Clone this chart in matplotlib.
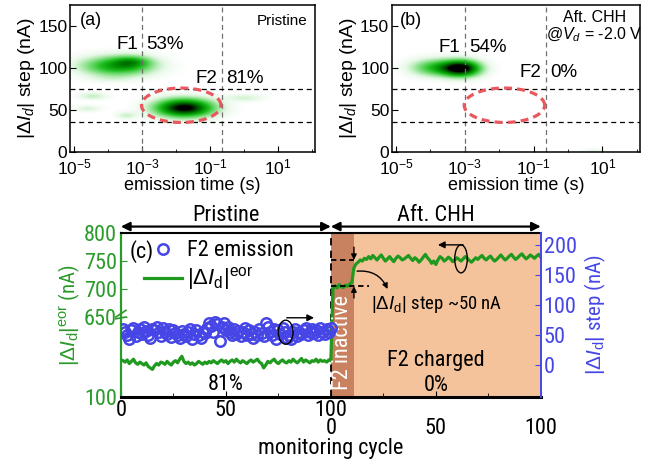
import numpy as np
import matplotlib
matplotlib.use('Agg')
import matplotlib.pyplot as plt
from matplotlib import font_manager as fm
from matplotlib.colors import LinearSegmentedColormap
from matplotlib.patches import Ellipse
from matplotlib.ticker import FixedLocator, NullFormatter
import matplotlib.transforms as mtransforms

names = {f.name for f in fm.fontManager.ttflist}
REG = 'Liberation Sans'
NARROW = REG
for cand in ('Liberation Sans Narrow', 'Arial Narrow', 'Nimbus Sans Narrow',
             'Roboto Condensed', 'PT Sans Narrow', 'Archivo Narrow'):
    if cand in names:
        NARROW = cand
        break
plt.rcParams['font.family'] = [REG, 'DejaVu Sans']
plt.rcParams['mathtext.fontset'] = 'custom'
plt.rcParams['mathtext.rm'] = REG
plt.rcParams['mathtext.it'] = REG + ':italic'
plt.rcParams['mathtext.bf'] = REG + ':bold'

# ---------------- data: panel (a) density blobs (log10 tau, step nA, widths, amplitude)
a_blob_logtau = [-3.7, -3.3, -1.75, -4.45, -4.6, -3.45, 0.0, -3.9]
a_blob_step = [103, 108, 53, 67, 52, 44, 65, 88]
a_blob_wlog = [0.68, 0.35, 0.55, 0.28, 0.25, 0.2, 0.38, 0.45]
a_blob_wstep = [7.5, 4.5, 7.0, 2.8, 2.5, 2.8, 2.8, 3.0]
a_blob_amp = [0.58, 0.3, 1.05, 0.13, 0.10, 0.12, 0.11, 0.05]

# panel (b) density blobs
b_blob_logtau = [-3.1, -3.8, 0.75]
b_blob_step = [100, 101, 1]
b_blob_wlog = [0.36, 0.48, 0.2]
b_blob_wstep = [6.2, 6.5, 2.0]
b_blob_amp = [1.05, 0.45, 0.08]

# F2 region ellipse (log10 tau centre/half-width, step centre/half-height)
f2_logtau, f2_halflog = -1.85, 1.17
f2_step, f2_halfstep = 55.5, 20.5
f_vlines = [1e-3, 10 ** -0.65]
f_hlines = [75, 35]

# ---------------- data: panel (c)
blue_f2_pristine = [61, 56, 50, 44, 58, 62, 48, 55, 60, 52,
                    63, 57, 50, 45, 60, 58, 64, 55, 49, 62,
                    56, 52, 60, 47, 58, 54, 50, 45, 57, 52,
                    48, 55, 60, 44, 52, 58, 50, 46, 56, 53,
                    62, 70, 66, 55, 72, 68, 40, 63, 70, 58,
                    64, 56, 50, 60, 52, 57, 48, 55, 62, 50,
                    58, 52, 46, 56, 50, 60, 54, 48, 70, 64,
                    56, 50, 60, 44, 58, 52, 62, 55, 46, 50,
                    43, 55, 60, 48, 56, 52, 58, 62, 50, 56,
                    60, 54, 58, 50, 62, 56, 52, 60, 55, 62]
green_eor_pristine = [350, 340, 355, 330, 345, 360, 335, 325, 340, 330,
                      320, 335, 310, 300, 290, 315, 330, 320, 340, 335,
                      325, 345, 330, 320, 340, 350, 335, 360, 380, 345,
                      330, 340, 325, 335, 320, 330, 345, 335, 325, 340,
                      330, 345, 335, 350, 340, 330, 345, 355, 340, 350,
                      330, 345, 355, 340, 360, 345, 335, 350, 340, 330,
                      345, 355, 340, 350, 360, 340, 330, 300, 320, 345,
                      335, 350, 360, 340, 330, 345, 355, 340, 335, 350,
                      340, 360, 345, 335, 350, 365, 340, 355, 345, 335,
                      350, 345, 360, 340, 355, 345, 350, 340, 355, 350]
green_eor_after = [700, 706, 702, 708, 704, 703, 707, 705, 709, 712,
                   738, 745, 748, 752, 750, 755, 753, 758, 754, 760,
                   756, 752, 757, 761, 755, 750, 754, 758, 753, 749,
                   755, 759, 756, 752, 754, 757, 760, 755, 751, 756,
                   753, 748, 752, 757, 762, 756, 752, 746, 750, 744,
                   752, 758, 755, 750, 753, 757, 754, 749, 752, 756,
                   753, 750, 754, 758, 755, 751, 748, 752, 756, 753,
                   757, 760, 755, 752, 756, 759, 754, 750, 753, 757,
                   761, 756, 752, 755, 759, 762, 757, 753, 756, 760,
                   763, 758, 754, 757, 761, 758, 755, 759, 762, 757]
cycle_pristine = np.arange(1, 101)
cycle_after = np.arange(101, 201)
x_tick_pos = [0, 50, 100, 150, 200]
x_tick_lab = ['0', '50', '100\n0', '\n50', '\n100']
left_ticks = [100, 650, 700, 750, 800]
right_ticks = [0, 50, 100, 150, 200]
step_low, step_high = 705, 752

GREEN = '#2a9a2a'
LINEG = '#1f9a1f'
BLUE = '#4646e6'
ORANGE = '#f5c39b'
BROWN = '#c9825f'

cmap = LinearSegmentedColormap.from_list('g', [
    (0.0, '#ffffff'), (0.08, '#e6f8e6'), (0.25, '#7fe07f'), (0.45, '#20c020'),
    (0.65, '#009000'), (0.85, '#004800'), (1.0, '#000000')])

fig = plt.figure(figsize=(6.5, 4.63), dpi=100)
axa = fig.add_axes([0.108, 0.672, 0.377, 0.3175])
axb = fig.add_axes([0.603, 0.672, 0.382, 0.3175])
axc = fig.add_axes([0.186, 0.1425, 0.646, 0.354])

lx = np.linspace(-5.3, 2.3, 420)
ly = np.linspace(0, 175, 300)
LX, LY = np.meshgrid(lx, ly)


def density(cx, cy, sx, sy, amp):
    Z = np.zeros_like(LX)
    for a, b, c, d, e in zip(cx, cy, sx, sy, amp):
        Z += e * np.exp(-0.5 * (((LX - a) / c) ** 2 + ((LY - b) / d) ** 2))
    return np.clip(Z, 0, 1)


t = np.linspace(0, 2 * np.pi, 300)
for ax, blobs in ((axa, (a_blob_logtau, a_blob_step, a_blob_wlog, a_blob_wstep, a_blob_amp)),
                  (axb, (b_blob_logtau, b_blob_step, b_blob_wlog, b_blob_wstep, b_blob_amp))):
    ax.pcolormesh(10 ** lx, ly, density(*blobs), cmap=cmap, vmin=0, vmax=1,
                  shading='gouraud', rasterized=True)
    ax.set_xscale('log')
    ax.set_xlim(10 ** -5.12, 10 ** 2.1)
    ax.set_ylim(0, 175)
    ax.set_yticks([0, 50, 100, 150])
    ax.set_xticks([1e-5, 1e-3, 1e-1, 1e1])
    ax.xaxis.set_minor_locator(FixedLocator([1e-4, 1e-2, 1, 1e2]))
    ax.xaxis.set_minor_formatter(NullFormatter())
    ax.tick_params(which='both', direction='in', labelsize=12.5)
    ax.tick_params(axis='x', pad=4)
    ax.tick_params(axis='y', pad=2)
    ax.tick_params(which='major', length=4)
    ax.tick_params(which='minor', length=2.5)
    for v in f_vlines:
        ax.axvline(v, color='#707070', lw=0.9, ls=(0, (4, 3)))
    for h in f_hlines:
        ax.axhline(h, color='black', lw=0.9, ls=(0, (4, 3)))
    ax.plot(10 ** (f2_logtau + f2_halflog * np.cos(t)), f2_step + f2_halfstep * np.sin(t),
            color='#e8585e', lw=2.3, ls=(0, (2.5, 1.6)))
    ax.set_xlabel('emission time (s)', fontsize=13, labelpad=0)
    ax.set_ylabel(r'$|\Delta I_d|$ step (nA)', fontsize=14, labelpad=1)
    for s in ax.spines.values():
        s.set_linewidth(1.1)

tf = 13.5
axa.text(0.04, 0.86, '(a)', transform=axa.transAxes, fontsize=13)
axa.text(0.97, 0.86, 'Pristine', transform=axa.transAxes, fontsize=11, ha='right')
axa.annotate('F1', (f_vlines[0], 128), xytext=(-3, 0), textcoords='offset points', ha='right', va='center', fontsize=tf)
axa.annotate('53%', (f_vlines[0], 128), xytext=(3, 0), textcoords='offset points', ha='left', va='center', fontsize=tf)
axa.annotate('F2', (f_vlines[1], 87), xytext=(-3, 0), textcoords='offset points', ha='right', va='center', fontsize=tf)
axa.annotate('81%', (f_vlines[1], 87), xytext=(3, 0), textcoords='offset points', ha='left', va='center', fontsize=tf)

axb.text(0.03, 0.86, '(b)', transform=axb.transAxes, fontsize=13)
axb.text(0.815, 0.885, 'Aft. CHH', transform=axb.transAxes, fontsize=11.5, ha='center')
axb.text(0.815, 0.765, r'@$V_d$ = -2.0 V', transform=axb.transAxes, fontsize=11.5, ha='center')
axb.annotate('F1', (f_vlines[0], 124), xytext=(-3, 0), textcoords='offset points', ha='right', va='center', fontsize=tf)
axb.annotate('54%', (f_vlines[0], 124), xytext=(3, 0), textcoords='offset points', ha='left', va='center', fontsize=tf)
axb.annotate('F2', (f_vlines[1], 94), xytext=(-3, 0), textcoords='offset points', ha='right', va='center', fontsize=tf)
axb.annotate('0%', (f_vlines[1], 94), xytext=(3, 0), textcoords='offset points', ha='left', va='center', fontsize=tf)

# ---------------- panel (c)
K = 0.26


def fwd(y):
    y = np.asarray(y, dtype=float)
    return np.where(y >= 650, y, 650 - (650 - y) * K)


def inv(u):
    u = np.asarray(u, dtype=float)
    return np.where(u >= 650, u, 650 - (650 - u) / K)


axc.set_yscale('function', functions=(fwd, inv))
axc.set_ylim(100, 800)
axc.set_xlim(0, 200)
axc.axvspan(100, 200, color=ORANGE, zorder=0, lw=0)
axc.axvspan(100, 111, color=BROWN, zorder=0.5, lw=0)
axc.axvline(100, color='black', lw=1.3, ls=(0, (4, 3)), zorder=1)

green_all = np.concatenate([green_eor_pristine, green_eor_after])
cyc_all = np.concatenate([cycle_pristine, cycle_after])
hg, = axc.plot(cyc_all, green_all, color=LINEG, lw=2.3, zorder=3)

axr = axc.twinx()
axr.set_ylim(-53, 220)
hb, = axr.plot(cycle_pristine, blue_f2_pristine, 'o', mfc='none', mec=BLUE, ms=7.5, mew=1.8)

FS = 16
nf = dict(family=[NARROW, 'DejaVu Sans'])
axc.set_xticks(x_tick_pos)
axc.set_xticklabels(x_tick_lab, fontsize=FS, linespacing=0.85, **nf)
axc.xaxis.set_minor_locator(FixedLocator([25, 75, 125, 175]))
axc.set_yticks(left_ticks)
axc.set_yticklabels([str(v) for v in left_ticks], fontsize=FS, color=GREEN, **nf)
axc.yaxis.set_minor_locator(FixedLocator([]))
axr.set_yticks(right_ticks)
axr.set_yticklabels([str(v) for v in right_ticks], fontsize=FS, color=BLUE, **nf)
axc.tick_params(axis='x', which='both', direction='in', pad=2)
axc.tick_params(axis='x', which='major', length=4)
axc.tick_params(axis='x', which='minor', length=3)
axc.tick_params(axis='y', direction='in', color=GREEN, pad=3, length=4)
axr.tick_params(axis='y', direction='in', color=BLUE, pad=2, length=4)

axc.spines['left'].set_color(GREEN)
axc.spines['left'].set_linewidth(1.6)
axc.spines['right'].set_visible(False)
axc.spines['bottom'].set_linewidth(2.2)
axc.spines['top'].set_linewidth(1.5)
for s in ('left', 'top', 'bottom'):
    axr.spines[s].set_visible(False)
axr.spines['right'].set_color(BLUE)
axr.spines['right'].set_linewidth(1.4)

axc.set_xlabel('monitoring cycle', fontsize=FS, labelpad=-1, **nf)
axc.set_ylabel(r'$|\Delta I_\mathrm{d}|^\mathrm{eor}$ (nA)', fontsize=15, color=GREEN, labelpad=1, **nf)
axr.set_ylabel(r'$|\Delta I_\mathrm{d}|$ step (nA)', fontsize=15, color=BLUE, labelpad=4, **nf)

# axis break mark at 650
bt = mtransforms.blended_transform_factory(axc.transAxes, axc.transData)
for dy in (-6, 6):
    axc.plot([-0.012, 0.012], [650 + dy - 6, 650 + dy + 6], color=GREEN, lw=1.2,
             transform=bt, clip_on=False, zorder=5)

# legend
axc.text(0.02, 0.89, '(c)', transform=axc.transAxes, fontsize=FS, va='center', **nf)
leg = axc.legend([hb, hg], ['F2 emission', r'$|\Delta I_\mathrm{d}|^\mathrm{eor}$'],
                 loc='upper left', bbox_to_anchor=(0.055, 0.955), frameon=False,
                 handlelength=1.7, handletextpad=0.25, labelspacing=0.2,
                 borderpad=0, borderaxespad=0, numpoints=1,
                 prop=dict(family=[NARROW, 'DejaVu Sans'], size=FS))

bx = mtransforms.blended_transform_factory(axc.transData, axc.transAxes)
# region arrows on top
ab = dict(arrowstyle='<|-|>', color='black', lw=1.6, mutation_scale=13, shrinkA=0, shrinkB=0)
for x0, x1, lab in ((0, 100, 'Pristine'), (100, 200, 'Aft. CHH')):
    axc.annotate('', xy=(x0, 1.04), xytext=(x1, 1.04), xycoords=('data', 'axes fraction'),
                 textcoords=('data', 'axes fraction'), arrowprops=ab, annotation_clip=False)
    axc.text((x0 + x1) / 2, 1.105, lab, transform=bx, ha='center', va='center', fontsize=FS, **nf)

# annotations
axc.text(50, 0.075, '81%', transform=bx, ha='center', va='center', fontsize=FS, **nf)
axc.text(150, 0.225, 'F2 charged', transform=bx, ha='center', va='center', fontsize=FS, **nf)
axc.text(150, 0.07, '0%', transform=bx, ha='center', va='center', fontsize=FS, **nf)
axc.text(105.5, 0.335, 'F2 inactive', transform=bx, ha='center', va='center', rotation=90,
         color='white', fontsize=FS, **nf)

axc.plot([100, 111], [step_high, step_high], color='black', lw=1.3, ls=(0, (3, 2)), zorder=4)
axc.plot([100, 118], [step_low, step_low], color='black', lw=1.3, ls=(0, (3, 2)), zorder=4)
axc.annotate('', xy=(111, step_high), xytext=(111, 775),
             arrowprops=dict(arrowstyle='-|>', color='black', lw=1.0, mutation_scale=8, shrinkA=0, shrinkB=0))
axc.annotate('', xy=(111, step_low), xytext=(111, 684),
             arrowprops=dict(arrowstyle='-|>', color='black', lw=1.0, mutation_scale=8, shrinkA=0, shrinkB=0))
axc.annotate('', xy=(127, 700), xytext=(112.5, 732),
             arrowprops=dict(arrowstyle='-|>', color='black', lw=1.0, mutation_scale=8,
                             connectionstyle='arc3,rad=-0.35', shrinkA=0, shrinkB=0))
axc.text(119, 692, r'$|\Delta I_\mathrm{d}|$ step ~50 nA', ha='left', va='top', fontsize=13.5, **nf)

# ellipses with arrows indicating which axis
axr.add_patch(Ellipse((78.5, 55), 7, 40, fill=False, ec='black', lw=1.0, zorder=5))
axr.annotate('', xy=(92, 79), xytext=(79, 79),
             arrowprops=dict(arrowstyle='-|>', color='black', lw=1.0, mutation_scale=10, shrinkA=0, shrinkB=0))
axc.add_patch(Ellipse((162, 754), 6, 50, fill=False, ec='black', lw=1.0, zorder=5))
axc.annotate('', xy=(151, 779), xytext=(163, 779),
             arrowprops=dict(arrowstyle='-|>', color='black', lw=1.0, mutation_scale=10, shrinkA=0, shrinkB=0))

fig.savefig('out.png', dpi=100)
